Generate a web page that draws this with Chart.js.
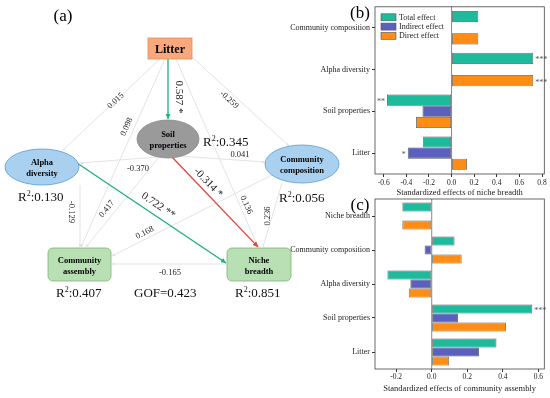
<!DOCTYPE html>
<html>
<head>
<meta charset="utf-8">
<script src="https://cdn.jsdelivr.net/npm/chart.js@4.4.0/dist/chart.umd.min.js"></script>
<style>
body { margin: 0; background: #fff; }
#wrap { position: relative; width: 550px; height: 398px; overflow: hidden; font-family: "Liberation Serif", serif; }
canvas { position: absolute; }
#cb { left: 280px; top: 0; }
#cc { left: 280px; top: 190px; }
svg { position: absolute; left: 0; top: 0; font-family: "Liberation Serif", serif; }
</style>
</head>
<body>
<div id="wrap">
<canvas id="cb" width="270" height="200"></canvas>
<canvas id="cc" width="270" height="208"></canvas>

<svg width="550" height="398">
  <defs>
    <marker id="ag" viewBox="0 0 6 6" refX="6" refY="3" markerWidth="4" markerHeight="4" orient="auto"><path d="M0,0L6,3L0,6z" fill="#22b07c"/></marker>
    <marker id="ar" viewBox="0 0 6 6" refX="6" refY="3" markerWidth="4" markerHeight="4" orient="auto"><path d="M0,0L6,3L0,6z" fill="#e0453b"/></marker>
    <marker id="ak" viewBox="0 0 6 6" refX="6" refY="3" markerWidth="3.5" markerHeight="3.5" orient="auto"><path d="M0,0L6,3L0,6z" fill="#dedede"/></marker>
  </defs>

  <text x="63" y="21" font-size="17" text-anchor="middle">(a)</text>
  <text x="360" y="18" font-size="17" text-anchor="middle">(b)</text>
  <text x="360" y="210" font-size="17" text-anchor="middle">(c)</text>

  <!-- gray paths -->
  <g stroke="#dcdcdc" stroke-width="0.8" fill="none" marker-end="url(#ak)">
    <line x1="160" y1="59" x2="63" y2="150"/>
    <line x1="165" y1="59" x2="81" y2="247"/>
    <line x1="192" y1="57" x2="289" y2="146"/>
    <line x1="176" y1="59" x2="258" y2="247"/>
    <line x1="158" y1="157" x2="80" y2="163"/>
    <line x1="178" y1="156" x2="265" y2="162"/>
    <line x1="80" y1="185" x2="80" y2="247"/>
    <line x1="160" y1="156" x2="86" y2="247"/>
    <line x1="272" y1="175" x2="112" y2="256"/>
    <line x1="282" y1="183" x2="263" y2="247"/>
    <line x1="227" y1="264" x2="112" y2="264"/>
  </g>
  <!-- significant paths -->
  <line x1="168" y1="59" x2="168" y2="119" stroke="#22b07c" stroke-width="1.3" marker-end="url(#ag)"/>
  <line x1="77" y1="163" x2="226" y2="263" stroke="#22b07c" stroke-width="1.3" marker-end="url(#ag)"/>
  <line x1="172" y1="157" x2="258" y2="247" stroke="#e0453b" stroke-width="1.3" marker-end="url(#ar)"/>

  <!-- nodes -->
  <rect x="148" y="38" width="44" height="21" fill="#f9a87c" stroke="#e58a58" stroke-width="0.8"/>
  <text x="170" y="52.5" font-size="12" font-weight="bold" text-anchor="middle">Litter</text>

  <ellipse cx="168" cy="139" rx="31" ry="19" fill="#9a9a9a" stroke="#8a8a8a" stroke-width="0.8"/>
  <text x="168" y="137" font-size="8.5" font-weight="bold" text-anchor="middle">Soil</text>
  <text x="168" y="148" font-size="8.5" font-weight="bold" text-anchor="middle">properties</text>

  <ellipse cx="42" cy="167" rx="37" ry="18" fill="#a9d1ef" stroke="#5b9bd5" stroke-width="0.8"/>
  <text x="42" y="165" font-size="8.5" font-weight="bold" text-anchor="middle">Alpha</text>
  <text x="42" y="176" font-size="8.5" font-weight="bold" text-anchor="middle">diversity</text>

  <ellipse cx="302" cy="164" rx="37" ry="19" fill="#a9d1ef" stroke="#5b9bd5" stroke-width="0.8"/>
  <text x="302" y="162" font-size="8.5" font-weight="bold" text-anchor="middle">Community</text>
  <text x="302" y="173" font-size="8.5" font-weight="bold" text-anchor="middle">composition</text>

  <rect x="48" y="248" width="63" height="33" rx="5" fill="#b9e0b4" stroke="#7fb37c" stroke-width="0.8"/>
  <text x="79.5" y="263" font-size="8.5" font-weight="bold" text-anchor="middle">Community</text>
  <text x="79.5" y="274" font-size="8.5" font-weight="bold" text-anchor="middle">assembly</text>

  <rect x="227" y="248" width="64" height="33" rx="5" fill="#b9e0b4" stroke="#7fb37c" stroke-width="0.8"/>
  <text x="259" y="263" font-size="8.5" font-weight="bold" text-anchor="middle">Niche</text>
  <text x="259" y="274" font-size="8.5" font-weight="bold" text-anchor="middle">breadth</text>

  <!-- coefficients -->
  <g font-size="8.5" text-anchor="middle" dominant-baseline="middle" fill="#222">
    <text transform="translate(116,101) rotate(-43)">0.015</text>
    <text transform="translate(127,127) rotate(-66)">0.098</text>
    <text transform="translate(229,100) rotate(42)">-0.259</text>
    <text transform="translate(246,205) rotate(66)">0.136</text>
    <text transform="translate(138,169)">-0.370</text>
    <text transform="translate(240,155)">0.041</text>
    <text transform="translate(71,212) rotate(90)">-0.129</text>
    <text transform="translate(107,209) rotate(-51)">0.417</text>
    <text transform="translate(145,233) rotate(-27)">0.168</text>
    <text transform="translate(268,216) rotate(-90)">0.236</text>
    <text transform="translate(170,273)">-0.165</text>
  </g>
  <g font-size="11" text-anchor="middle" dominant-baseline="middle" fill="#222">
    <text transform="translate(179,97) rotate(90)">0.587 *</text>
    <text transform="translate(158,206) rotate(34)">0.722 **</text>
    <text transform="translate(208,183) rotate(46)">-0.314 *</text>
  </g>

  <!-- R2 -->
  <g font-size="13" fill="#111">
    <text x="203" y="146">R<tspan dy="-5" font-size="8">2</tspan><tspan dy="5">:0.345</tspan></text>
    <text x="18" y="201">R<tspan dy="-5" font-size="8">2</tspan><tspan dy="5">:0.130</tspan></text>
    <text x="279" y="202">R<tspan dy="-5" font-size="8">2</tspan><tspan dy="5">:0.056</tspan></text>
    <text x="56" y="297">R<tspan dy="-5" font-size="8">2</tspan><tspan dy="5">:0.407</tspan></text>
    <text x="134" y="297">GOF=0.423</text>
    <text x="235" y="297">R<tspan dy="-5" font-size="8">2</tspan><tspan dy="5">:0.851</tspan></text>
  </g>
</svg>
</div>

<script>
// (b) effects on niche breadth
const catsB = ['Community composition', 'Alpha diversity', 'Soil properties', 'Litter'];
const totalB = [0.236, 0.722, -0.571, -0.251];
const indirectB = [null, null, -0.257, -0.387];
const directB = [0.236, 0.722, -0.314, 0.136];
const sigTotalB = ['', '***', '**', ''];
const sigIndirectB = ['', '', '', '*'];
const sigDirectB = ['', '***', '', ''];
const ticksB = [-0.6, -0.4, -0.2, 0, 0.2, 0.4, 0.6, 0.8];

// (c) effects on community assembly
const catsC = ['Niche breadth', 'Community composition', 'Alpha diversity', 'Soil properties', 'Litter'];
const totalC = [-0.165, 0.128, -0.249, 0.565, 0.364];
const indirectC = [null, -0.04, -0.12, 0.148, 0.266];
const directC = [-0.165, 0.168, -0.129, 0.417, 0.098];
const sigTotalC = ['', '', '', '***', ''];
const ticksC = [-0.2, 0, 0.2, 0.4, 0.6];

const seriesNames = ['Total effect', 'Indirect effect', 'Direct effect'];
const seriesColors = ['#1dbb9c', '#5b5fbd', '#ff8c14'];
const serif = 'Liberation Serif';

function datasets(vals, sigs) {
    return vals.map((v, i) => ({
        label: seriesNames[i],
        data: v,
        sig: sigs[i],
        backgroundColor: seriesColors[i],
        borderColor: '#555',
        borderWidth: 0.8,
        borderSkipped: false,
        barPercentage: 1,
        categoryPercentage: 0.8
    }));
}

const zeroLine = {
    id: 'zeroLine',
    beforeDatasetsDraw(chart) {
        const a = chart.chartArea, ctx = chart.ctx;
        const x0 = chart.scales.x.getPixelForValue(0);
        ctx.save();
        ctx.strokeStyle = '#888';
        ctx.lineWidth = 1;
        ctx.beginPath();
        ctx.moveTo(x0, a.top);
        ctx.lineTo(x0, a.bottom);
        ctx.stroke();
        ctx.restore();
    },
    afterDraw(chart) {
        const a = chart.chartArea, ctx = chart.ctx;
        ctx.save();
        ctx.strokeStyle = '#444';
        ctx.lineWidth = 0.8;
        ctx.strokeRect(a.left, a.top, a.right - a.left, a.bottom - a.top);
        ctx.restore();
    }
};

const stars = {
    id: 'stars',
    afterDatasetsDraw(chart) {
        const ctx = chart.ctx;
        ctx.save();
        ctx.font = '8px "' + serif + '"';
        ctx.fillStyle = '#555';
        ctx.textBaseline = 'middle';
        chart.data.datasets.forEach((ds, i) => {
            const meta = chart.getDatasetMeta(i);
            meta.data.forEach((el, j) => {
                const s = ds.sig && ds.sig[j];
                if (!s) return;
                const neg = ds.data[j] < 0;
                ctx.textAlign = neg ? 'right' : 'left';
                ctx.fillText(s, el.x + (neg ? -2 : 2), el.y + 2);
            });
        });
        ctx.restore();
    }
};

const insideLegend = {
    id: 'insideLegend',
    afterDraw(chart) {
        const a = chart.chartArea, ctx = chart.ctx;
        ctx.save();
        ctx.font = '8px "' + serif + '"';
        ctx.textBaseline = 'middle';
        ctx.textAlign = 'left';
        chart.data.datasets.forEach((ds, i) => {
            const y = a.top + 7 + i * 9.3;
            ctx.fillStyle = ds.backgroundColor;
            ctx.fillRect(a.left + 6, y, 15, 7);
            ctx.strokeStyle = '#555';
            ctx.lineWidth = 0.6;
            ctx.strokeRect(a.left + 6, y, 15, 7);
            ctx.fillStyle = '#222';
            ctx.fillText(ds.label, a.left + 24, y + 3.8);
        });
        ctx.restore();
    }
};

function options(min, max, ticks, title, xHeight, titlePad, tickPad, topPad) {
    return {
        indexAxis: 'y',
        responsive: false,
        animation: false,
        layout: { padding: { top: topPad, right: 5.7, left: 0, bottom: 0 } },
        plugins: { legend: { display: false }, tooltip: { enabled: false } },
        scales: {
            x: {
                type: 'linear',
                min: min,
                max: max,
                afterBuildTicks: s => { s.ticks = ticks.map(v => ({ value: v })); },
                afterFit: s => { s.height = xHeight; },
                ticks: {
                    callback: v => v.toFixed(1),
                    font: { family: serif, size: 7.5 },
                    color: '#222',
                    padding: tickPad,
                    maxRotation: 0
                },
                grid: { drawOnChartArea: false, tickLength: 3, tickColor: '#333' },
                border: { display: false },
                title: {
                    display: true,
                    text: title,
                    font: { family: serif, size: 8.5 },
                    color: '#222',
                    padding: { top: 0, bottom: titlePad }
                }
            },
            y: {
                afterFit: s => { s.width = 95; },
                ticks: { font: { family: serif, size: 8 }, color: '#222', padding: 2 },
                grid: { offset: false, drawOnChartArea: false, tickLength: 3, tickColor: '#333' },
                border: { display: false }
            }
        }
    };
}

new Chart(document.getElementById('cb'), {
    type: 'bar',
    data: {
        labels: catsB,
        datasets: datasets([totalB, indirectB, directB], [sigTotalB, sigIndirectB, sigDirectB])
    },
    options: options(-0.677, 0.82, ticksB, 'Standardized effects of niche breadth', 26, 2, 2, 3),
    plugins: [zeroLine, stars, insideLegend]
});

new Chart(document.getElementById('cc'), {
    type: 'bar',
    data: {
        labels: catsC,
        datasets: datasets([totalC, indirectC, directC], [sigTotalC, [], []])
    },
    options: options(-0.319, 0.633, ticksC, 'Standardized effects of community assembly', 29, 4, 1, 9),
    plugins: [zeroLine, stars]
});
</script>
</body>
</html>
